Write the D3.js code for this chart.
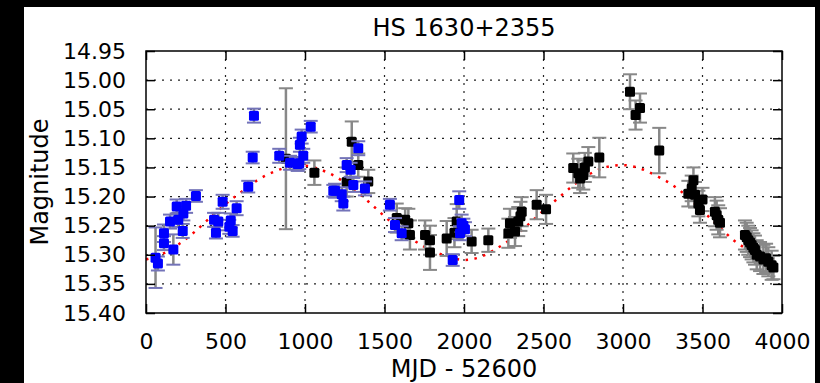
<!DOCTYPE html>
<html>
<head>
<meta charset="utf-8">
<script src="https://cdn.jsdelivr.net/npm/d3@7"></script>
<style>
    html, body { margin: 0; padding: 0; background: #000; }
    svg { display: block; }
    text { font-family: 'DejaVu Sans', sans-serif; fill: #000; }
</style>
</head>
<body>
<svg id="chart" width="820" height="383"></svg>
<script>
// x tick labels and y tick labels
const xTicks = [0, 500, 1000, 1500, 2000, 2500, 3000, 3500, 4000];
const yTicks = [14.95, 15.00, 15.05, 15.10, 15.15, 15.20, 15.25, 15.30, 15.35, 15.40];

// blue series: [mjd, magnitude, error]
const bluePoints = [
    [60, 15.305, 0.052], [75, 15.315, 0.012], [113, 15.263, 0.015], [113, 15.280, 0.012],
    [172, 15.291, 0.026], [151, 15.243, 0.012], [203, 15.240, 0.012], [193, 15.217, 0.012],
    [252, 15.216, 0.012], [235, 15.229, 0.012], [231, 15.259, 0.012], [314, 15.199, 0.010],
    [428, 15.240, 0.012], [455, 15.243, 0.015], [440, 15.262, 0.010], [482, 15.209, 0.012],
    [533, 15.241, 0.012], [524, 15.252, 0.012], [545, 15.259, 0.010], [570, 15.220, 0.012],
    [643, 15.183, 0.010], [671, 15.133, 0.010], [679, 15.061, 0.012], [838, 15.130, 0.012],
    [906, 15.142, 0.012], [954, 15.144, 0.012], [964, 15.143, 0.010], [989, 15.130, 0.012],
    [968, 15.111, 0.012], [979, 15.097, 0.012], [1036, 15.080, 0.010], [1178, 15.190, 0.010],
    [1189, 15.190, 0.012], [1231, 15.196, 0.012], [1241, 15.212, 0.012], [1262, 15.146, 0.012],
    [1287, 15.154, 0.012], [1304, 15.180, 0.012], [1335, 15.117, 0.012], [1377, 15.186, 0.012],
    [1534, 15.214, 0.010], [1566, 15.249, 0.012], [1608, 15.263, 0.012], [1929, 15.309, 0.010],
    [1970, 15.206, 0.015], [1985, 15.246, 0.015], [1975, 15.263, 0.012], [2006, 15.256, 0.012],
    [1996, 15.250, 0.012]
];

// black series: [mjd, magnitude, error]
const blackPoints = [
    [880, 15.135, 0.121], [1059, 15.159, 0.021], [1294, 15.106, 0.035], [1335, 15.146, 0.020],
    [1262, 15.175, 0.025], [1398, 15.174, 0.020], [1577, 15.237, 0.025], [1630, 15.240, 0.020],
    [1650, 15.246, 0.025], [1660, 15.266, 0.025], [1755, 15.266, 0.025], [1786, 15.275, 0.025],
    [1786, 15.296, 0.030], [1891, 15.272, 0.030], [1940, 15.262, 0.025], [1954, 15.243, 0.030],
    [2048, 15.277, 0.020], [2153, 15.275, 0.020], [2279, 15.263, 0.025], [2289, 15.246, 0.025],
    [2321, 15.260, 0.025], [2341, 15.243, 0.025], [2355, 15.234, 0.025], [2363, 15.226, 0.025],
    [2457, 15.214, 0.025], [2516, 15.222, 0.025], [2687, 15.151, 0.025], [2719, 15.160, 0.025],
    [2730, 15.169, 0.025], [2750, 15.163, 0.025], [2760, 15.150, 0.025], [2782, 15.140, 0.025],
    [2851, 15.133, 0.034], [3044, 15.020, 0.030], [3079, 15.060, 0.025], [3107, 15.048, 0.025],
    [3228, 15.121, 0.039], [3411, 15.195, 0.022], [3432, 15.186, 0.022], [3443, 15.172, 0.022],
    [3453, 15.197, 0.022], [3474, 15.212, 0.022], [3484, 15.223, 0.022], [3500, 15.205, 0.020],
    [3578, 15.226, 0.025], [3589, 15.232, 0.025], [3599, 15.240, 0.025], [3610, 15.245, 0.025],
    [3767, 15.266, 0.025], [3778, 15.270, 0.025], [3788, 15.275, 0.025], [3799, 15.279, 0.025],
    [3809, 15.283, 0.025], [3820, 15.288, 0.025], [3830, 15.292, 0.025], [3841, 15.300, 0.025],
    [3862, 15.303, 0.025], [3883, 15.308, 0.025], [3900, 15.306, 0.025], [3914, 15.312, 0.025],
    [3935, 15.318, 0.025], [3946, 15.322, 0.020]
];

// red dotted fit
const fitMjd = [0, 100, 200, 300, 400, 500, 600, 700, 800, 900, 1000, 1100, 1200, 1300, 1400,
    1500, 1600, 1700, 1800, 1900, 2000, 2100, 2200, 2300, 2400, 2500, 2600, 2700, 2800, 2900,
    3000, 3100, 3200, 3300, 3400, 3500, 3600, 3700, 3800, 3900, 3950];
const fitMag = [15.308, 15.299, 15.283, 15.262, 15.237, 15.213, 15.192, 15.172, 15.158, 15.149,
    15.147, 15.154, 15.167, 15.186, 15.209, 15.234, 15.257, 15.278, 15.293, 15.303, 15.309,
    15.304, 15.290, 15.272, 15.249, 15.224, 15.201, 15.178, 15.160, 15.149, 15.146, 15.151,
    15.163, 15.178, 15.199, 15.225, 15.250, 15.276, 15.293, 15.305, 15.308];

const margin = { left: 146, top: 51, right: 782, bottom: 313 };
const svg = d3.select('#chart');

svg.append('rect')
    .attr('x', 24).attr('y', 7)
    .attr('width', 791).attr('height', 376)
    .attr('fill', '#fff');

const x = d3.scaleLinear().domain([0, 4000]).range([margin.left, margin.right]);
const y = d3.scaleLinear().domain([14.95, 15.40]).range([margin.top, margin.bottom]);
const w = margin.right - margin.left;
const h = margin.bottom - margin.top;

// grid
const grid = svg.append('g')
    .attr('stroke', '#222')
    .attr('stroke-width', 1.2)
    .attr('stroke-dasharray', '2,6');
grid.selectAll('.gx').data(xTicks.slice(1, -1)).enter().append('line')
    .attr('x1', d => x(d)).attr('x2', d => x(d))
    .attr('y1', margin.top).attr('y2', margin.bottom);
grid.selectAll('.gy').data(yTicks.slice(1, -1)).enter().append('line')
    .attr('x1', margin.left).attr('x2', margin.right)
    .attr('y1', d => y(d)).attr('y2', d => y(d));

// fit curve
const line = d3.line()
    .x((d, i) => x(fitMjd[i]))
    .y(d => y(d))
    .curve(d3.curveMonotoneX);
svg.append('path')
    .datum(fitMag)
    .attr('d', line)
    .attr('fill', 'none')
    .attr('stroke', '#ff0000')
    .attr('stroke-width', 2.5)
    .attr('stroke-dasharray', '2.5,6.5');

function drawSeries(points, color, capColor) {
    const g = svg.append('g');
    g.selectAll('.stem').data(points).enter().append('line')
        .attr('x1', d => x(d[0])).attr('x2', d => x(d[0]))
        .attr('y1', d => y(d[1] - d[2])).attr('y2', d => y(d[1] + d[2]))
        .attr('stroke', '#888').attr('stroke-width', 2.5);
    [-1, 1].forEach(s => {
        g.selectAll('.cap' + s).data(points).enter().append('line')
            .attr('x1', d => x(d[0]) - 7).attr('x2', d => x(d[0]) + 7)
            .attr('y1', d => y(d[1] + s * d[2])).attr('y2', d => y(d[1] + s * d[2]))
            .attr('stroke', capColor).attr('stroke-width', 2);
    });
    g.selectAll('.pt').data(points).enter().append('rect')
        .attr('x', d => x(d[0]) - 5)
        .attr('y', d => y(d[1]) - 5)
        .attr('width', 10).attr('height', 10)
        .attr('rx', 1.5)
        .attr('fill', color);
}

drawSeries(blackPoints, '#000', '#888');
drawSeries(bluePoints, '#0000ff', '#7373b8');

// axes, ticks inside on all sides
function styleAxis(g) {
    g.select('.domain').remove();
    g.selectAll('.tick line').attr('stroke', '#000').attr('stroke-width', 1.5);
    g.selectAll('.tick text')
        .style('font-size', '22px')
        .style('font-family', "'DejaVu Sans', sans-serif")
        .attr('fill', '#111');
}

svg.append('g')
    .attr('transform', `translate(0, ${margin.bottom})`)
    .call(d3.axisBottom(x).tickValues(xTicks).tickFormat(d3.format('d')).tickSizeInner(-9).tickPadding(20))
    .call(styleAxis);
svg.append('g')
    .attr('transform', `translate(${margin.left}, 0)`)
    .call(d3.axisLeft(y).tickValues(yTicks).tickFormat(d3.format('.2f')).tickSizeInner(-9).tickPadding(20))
    .call(styleAxis);
svg.append('g')
    .attr('transform', `translate(0, ${margin.top})`)
    .call(d3.axisTop(x).tickValues(xTicks).tickSizeInner(-9).tickFormat(''))
    .call(styleAxis);
svg.append('g')
    .attr('transform', `translate(${margin.right}, 0)`)
    .call(d3.axisRight(y).tickValues(yTicks).tickSizeInner(-9).tickFormat(''))
    .call(styleAxis);

svg.append('rect')
    .attr('x', margin.left).attr('y', margin.top)
    .attr('width', w).attr('height', h)
    .attr('fill', 'none')
    .attr('stroke', '#000')
    .attr('stroke-width', 1.5);

// labels
svg.append('text')
    .attr('x', (margin.left + margin.right) / 2).attr('y', 36)
    .attr('text-anchor', 'middle')
    .style('font-size', '24px')
    .text('HS 1630+2355');
svg.append('text')
    .attr('x', (margin.left + margin.right) / 2).attr('y', 377)
    .attr('text-anchor', 'middle')
    .style('font-size', '24px')
    .text('MJD - 52600');
svg.append('text')
    .attr('transform', `translate(48, ${(margin.top + margin.bottom) / 2}) rotate(-90)`)
    .attr('text-anchor', 'middle')
    .style('font-size', '24px')
    .text('Magnitude');
</script>
</body>
</html>
